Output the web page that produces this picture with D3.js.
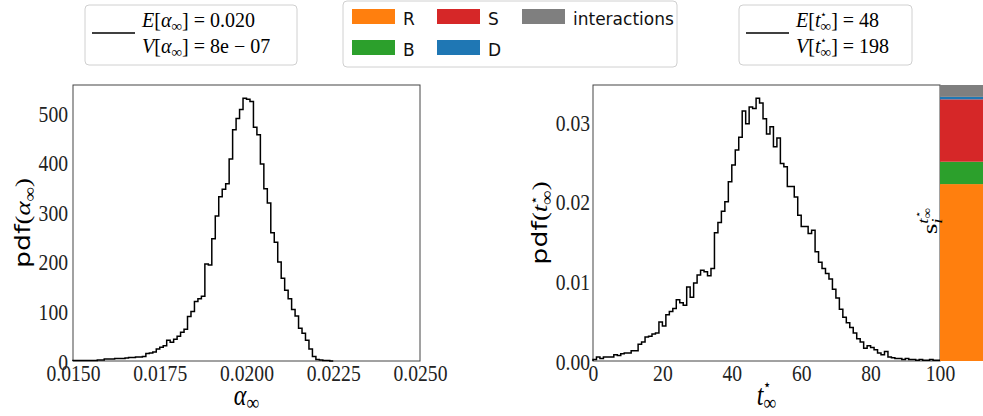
<!DOCTYPE html>
<html lang="en">
<head>
  <meta charset="UTF-8">
  <title>pdf of alpha and t-star</title>
  <script src="https://d3js.org/d3.v7.min.js"></script>
  <style>
    body { margin: 0; background: #fff; }
    svg { display: block; }
  </style>
</head>
<body>
  <svg width="983" height="416"></svg>

  <script>
    // ---- data ----
    // left histogram: alpha_inf, 75 bins of width 1e-4 starting at 0.0150
    const alphaStart = 0.015, alphaBin = 0.0001;
    const alphaPdf = [
      1, 1, 1, 1, 1, 1, 1, 2, 2, 4, 4, 4, 5, 5, 5, 6, 7, 7, 8, 8, 9,
      15, 16, 18, 24, 28, 31, 42, 38, 44, 50, 58, 64,
      90, 100, 120, 126, 131, 196, 194, 247, 293, 332, 347, 358, 408, 467, 490, 508, 531, 529, 524,
      472, 457, 398, 348, 319, 259, 240, 200, 167, 143, 126, 104, 91, 66, 56, 42, 24, 9, 3, 2, 1, 1, 0
    ];
    // right histogram: t*_inf, 100 bins of width 1 starting at 0
    const tStart = 0, tBin = 1;
    const tPdf = [
      0.0002, 0.0005, 0.0003, 0.0005, 0.0005, 0.0005, 0.0008, 0.0007, 0.0009, 0.0010,
      0.0010, 0.0013, 0.0013, 0.0021, 0.0024, 0.0030, 0.0031, 0.0034, 0.0035, 0.0049,
      0.0044, 0.0058, 0.0062, 0.0066, 0.0077, 0.0073, 0.0070, 0.0093, 0.0080, 0.0098,
      0.0108, 0.0114, 0.0112, 0.0107, 0.0116, 0.0161, 0.0174, 0.0188, 0.0200, 0.0225,
      0.0246, 0.0265, 0.0281, 0.0314, 0.0298, 0.0319, 0.0317, 0.0330, 0.0324, 0.0304,
      0.0285, 0.0294, 0.0269, 0.0280, 0.0248, 0.0244, 0.0219, 0.0219, 0.0206, 0.0183,
      0.0169, 0.0169, 0.0160, 0.0164, 0.0137, 0.0124, 0.0116, 0.0110, 0.0103, 0.0090,
      0.0079, 0.0065, 0.0055, 0.0048, 0.0042, 0.0035, 0.0028, 0.0024, 0.0016, 0.0019,
      0.0017, 0.0014, 0.0010, 0.0008, 0.0012, 0.0005, 0.0004, 0.0003, 0.0003, 0.0002,
      0.0003, 0.0002, 0.0002, 0.0001, 0.0002, 0.0001, 0.0001, 0.0002, 0.0001, 0.0001
    ];
    // stacked share bar (bottom to top)
    const sources = ["R", "B", "S", "D", "interactions"];
    const sourceShares = [0.641, 0.081, 0.226, 0.009, 0.043];

    // tick values / labels
    const alphaXTicks = [0.015, 0.0175, 0.02, 0.0225, 0.025];
    const alphaYTicks = [0, 100, 200, 300, 400, 500];
    const tXTicks = [0, 20, 40, 60, 80, 100];
    const tYTicks = [0, 0.01, 0.02, 0.03];

    // legend statistics
    const alphaMean = "0.020", alphaVar = "8e \u2212 07";
    const tMean = "48", tVar = "198";

    // ---- styles ----
    const sourceColors = ["#ff7f0e", "#2ca02c", "#d62728", "#1f77b4", "#7f7f7f"];
    const SERIF = "'Liberation Serif', 'DejaVu Serif', serif";
    const SANS = "'DejaVu Sans', sans-serif";
    const SY = 1.22;   // axis texts in the figure are stretched vertically

    const svg = d3.select("svg");
    const plotTop = 85, plotBottom = 361;

    const xA = d3.scaleLinear([0.015, 0.025], [73, 420]);
    const yA = d3.scaleLinear([0, d3.max(alphaPdf) * 1.05], [plotBottom, plotTop]);
    const xT = d3.scaleLinear([0, 100], [593, 940]);
    const yT = d3.scaleLinear([0, d3.max(tPdf) * 1.05], [plotBottom, plotTop]);
    const xS = d3.scaleBand(["share"], [940, 983]);
    const yS = d3.scaleLinear([0, 1], [plotBottom, plotTop]);

    // text built from tspans (roman / italic / sub / sup)
    function mathText(g, x, y, parts, opt) {
      const t = g.append("text")
        .attr("font-family", SERIF)
        .attr("font-size", opt.size)
        .attr("fill", "#000")
        .attr("text-anchor", opt.anchor || "start")
        .attr("transform", `translate(${x},${y}) scale(1,${opt.sy || 1}) rotate(${opt.rot || 0})`);
      let shift = 0, prev = null;
      parts.forEach(p => {
        const s = t.append("tspan").text(p.s).attr("font-size", opt.size * (p.scale || 1));
        if (p.sans) s.attr("font-family", SANS);
        if (p.it) s.attr("font-style", "italic");
        const target = (p.dy || 0) * opt.size;
        if (target !== shift) s.attr("dy", target - shift);
        shift = target;
        if (p.back && prev) s.attr("dx", -prev.node().getComputedTextLength());
        prev = s;
      });
      return t;
    }

    function stepPoints(start, bin, vals) {
      const pts = [[start, 0]];
      vals.forEach((v, i) => pts.push([start + i * bin, v], [start + (i + 1) * bin, v]));
      pts.push([start + vals.length * bin, 0]);
      return pts;
    }

    function panel(x, y, xTicks, yTicks, xFmt, yFmt, yPad) {
      const gx = svg.append("g").attr("transform", `translate(0,${plotBottom})`)
        .call(d3.axisBottom(x).tickValues(xTicks).tickSize(0).tickFormat(xFmt));
      const gy = svg.append("g").attr("transform", `translate(${x.range()[0]},0)`)
        .call(d3.axisLeft(y).tickValues(yTicks).tickSize(0).tickFormat(yFmt));
      [gx, gy].forEach(g => {
        g.select(".domain").remove();
        g.attr("font-family", SERIF).attr("font-size", 19.6);
      });
      gx.selectAll("text").attr("y", null).attr("dy", null).attr("fill", "#222")
        .attr("transform", `translate(0,20) scale(1,${SY})`);
      gy.selectAll("text").attr("x", null).attr("dy", null).attr("fill", "#222")
        .attr("transform", `translate(${-yPad},8) scale(1,${SY})`);
      svg.append("rect")
        .attr("x", x.range()[0]).attr("y", plotTop)
        .attr("width", x.range()[1] - x.range()[0]).attr("height", plotBottom - plotTop)
        .attr("fill", "none").attr("stroke", "#444").attr("stroke-width", 1);
    }

    // ---- left panel ----
    panel(xA, yA, alphaXTicks, alphaYTicks, d3.format(".4f"), d3.format("d"), 5);
    svg.append("path")
      .datum(stepPoints(alphaStart, alphaBin, alphaPdf))
      .attr("fill", "none").attr("stroke", "#000").attr("stroke-width", 1.5)
      .attr("d", d3.line().x(d => xA(d[0])).y(d => yA(d[1])));

    // ---- right panel ----
    panel(xT, yT, tXTicks, tYTicks, d3.format("d"), d3.format(".2f"), 3);
    svg.append("path")
      .datum(stepPoints(tStart, tBin, tPdf))
      .attr("fill", "none").attr("stroke", "#000").attr("stroke-width", 1.5)
      .attr("d", d3.line().x(d => xT(d[0])).y(d => yT(d[1])));

    // ---- stacked share bar ----
    const cum = d3.cumsum(sourceShares);
    svg.append("g").selectAll("rect")
      .data(sourceShares)
      .join("rect")
      .attr("x", xS("share")).attr("width", xS.bandwidth())
      .attr("y", (d, i) => yS(cum[i]))
      .attr("height", (d, i) => yS(cum[i] - d) - yS(cum[i]))
      .attr("fill", (d, i) => sourceColors[i]);

    // ---- axis labels ----
    mathText(svg, 246.5, 405, [
      { s: "\u03b1", it: true }, { s: "\u221e", scale: 0.75, dy: 0.16 }
    ], { size: 24, anchor: "middle", sy: SY });

    mathText(svg, 766.5, 405, [
      { s: "t", it: true }, { s: "\u22c6", scale: 0.55, dy: -0.5 },
      { s: "\u221e", scale: 0.75, dy: 0.16, back: true }
    ], { size: 24, anchor: "middle", sy: SY });

    mathText(svg, 30, 223, [
      { s: "pdf", sans: true }, { s: "(" }, { s: "\u03b1", it: true },
      { s: "\u221e", scale: 0.75, dy: 0.22 }, { s: ")" }
    ], { size: 21, anchor: "middle", sy: 1.28, rot: -90 });

    mathText(svg, 547, 223, [
      { s: "pdf", sans: true }, { s: "(" }, { s: "t", it: true },
      { s: "\u22c6", scale: 0.55, dy: -0.45 }, { s: "\u221e", scale: 0.75, dy: 0.22, back: true },
      { s: ")" }
    ], { size: 21, anchor: "middle", sy: 1.28, rot: -90 });

    mathText(svg, 937, 221, [
      { s: "s" }, { s: "i", it: true, scale: 0.7, dy: 0.25 },
      { s: "t", it: true, scale: 0.7, dy: -0.45, back: true },
      { s: "\u22c6", scale: 0.45, dy: -0.75 }, { s: "\u221e", scale: 0.55, dy: -0.3, back: true }
    ], { size: 21, anchor: "middle", sy: 1.3, rot: -90 });

    // ---- legends ----
    function frame(x, y, w, h) {
      svg.append("rect").attr("x", x).attr("y", y).attr("width", w).attr("height", h)
        .attr("rx", 4).attr("fill", "#fff").attr("stroke", "#d0d0d0").attr("stroke-width", 1);
    }

    function statLegend(x, w, sym, mean, variance) {
      frame(x, 5, w, 60);
      svg.append("line").attr("x1", x + 7).attr("x2", x + 50).attr("y1", 33).attr("y2", 33)
        .attr("stroke", "#000").attr("stroke-width", 1.5);
      [["E", mean, 27], ["V", variance, 53]].forEach(([op, val, yb]) => {
        mathText(svg, x + 57, yb, [{ s: op, it: true }, { s: "[" }].concat(sym, [{ s: "]" }, { s: " =  " + val }]),
          { size: 20 });
      });
    }

    statLegend(85, 212, [{ s: "\u03b1", it: true }, { s: "\u221e", scale: 0.75, dy: 0.22 }], alphaMean, alphaVar);
    statLegend(739, 173, [{ s: "t", it: true }, { s: "\u22c6", scale: 0.55, dy: -0.45 },
      { s: "\u221e", scale: 0.75, dy: 0.22, back: true }], tMean, tVar);

    frame(343, 1, 334, 66);
    const leg = svg.append("g").selectAll("g")
      .data(sources)
      .join("g")
      .attr("transform", (d, i) => `translate(${352 + Math.floor(i / 2) * 85},${9 + (i % 2) * 31})`);
    leg.append("rect").attr("width", 43).attr("height", 15)
      .attr("fill", (d, i) => sourceColors[i]);
    leg.append("text").attr("x", 51).attr("y", 15.5)
      .attr("font-family", SANS).attr("font-size", 17).attr("fill", "#111")
      .text(d => d);
  </script>
</body>
</html>
